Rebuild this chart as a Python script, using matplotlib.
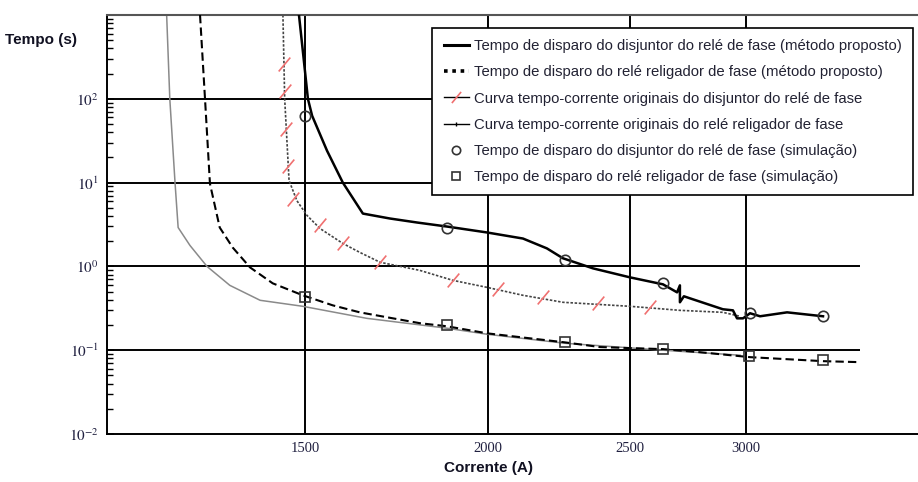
import matplotlib
matplotlib.use('Agg')

import matplotlib.pyplot as plt
from matplotlib.lines import Line2D
from matplotlib.ticker import FixedLocator, NullLocator, LogLocator, NullFormatter

plt.rcParams['font.family'] = ['Liberation Sans', 'DejaVu Sans']
plt.rcParams['mathtext.fontset'] = 'stix'

# Tempo de disparo do disjuntor (método proposto)
disj_x = [1486, 1497, 1507, 1517, 1553, 1592, 1643, 1714, 1789, 1875, 1997, 2113, 2194,
          2250, 2359, 2500, 2633, 2692, 2704, 2704, 2721, 2747, 2893, 2939, 2958, 2986,
          3019, 3067, 3200, 3386]
disj_y = [1000, 300, 100, 62.8, 24, 10, 4.27, 3.73, 3.34, 2.99, 2.54, 2.15, 1.64,
          1.25, 0.947, 0.740, 0.611, 0.490, 0.594, 0.373, 0.44, 0.416, 0.308, 0.299,
          0.240, 0.240, 0.276, 0.254, 0.283, 0.254]

# Tempo de disparo do religador (método proposto)
relig_x = [1272, 1282, 1292, 1312, 1339, 1376, 1426, 1495, 1567, 1635, 1797, 1875, 1997,
           2257, 2385, 2500, 2633, 2791, 3019, 3386, 3588]
relig_y = [1000, 100, 9.7, 2.91, 1.68, 0.973, 0.628, 0.452, 0.343, 0.283, 0.210, 0.193,
           0.159, 0.124, 0.109, 0.106, 0.103, 0.0946, 0.0826, 0.0740, 0.0720]

# Curva original do disjuntor
orig_disj_x = [1449, 1453, 1463, 1481, 1505, 1536, 1592, 1635, 1688, 1797, 1893, 1997,
               2113, 2250, 2500, 2704, 2893, 2972]
orig_disj_y = [1000, 100, 10.6, 6.1, 4.05, 2.83, 1.88, 1.47, 1.12, 0.896, 0.681, 0.562,
               0.452, 0.373, 0.334, 0.299, 0.283, 0.254]
slash_x = [1451, 1453, 1456, 1460, 1472, 1536, 1592, 1688, 1893, 2031, 2180, 2377, 2580]
slash_y = [261, 125, 44, 15.9, 6.3, 3.08, 1.88, 1.12, 0.681, 0.532, 0.428, 0.363, 0.325]

# Curva original do religador
orig_relig_x = [1207, 1213, 1223, 1229, 1252, 1286, 1333, 1398, 1495, 1653, 1875, 1997,
                2257, 2633, 2972]
orig_relig_y = [1000, 100, 10, 2.91, 1.78, 1.0, 0.594, 0.394, 0.334, 0.240, 0.183, 0.155,
                0.121, 0.100, 0.0872]

# Simulação
sim_disj_x = [1500, 1875, 2257, 2633, 3019, 3386]
sim_disj_y = [62.8, 2.91, 1.18, 0.628, 0.276, 0.254]
sim_relig_x = [1500, 1875, 2257, 2633, 3013, 3386]
sim_relig_y = [0.428, 0.198, 0.124, 0.103, 0.0849, 0.0760]

x_ticks = [1500, 2000, 2500, 3000]
y_ticks = [0.01, 0.1, 1, 10, 100]
y_labels = ['$10^{-2}$', '$10^{-1}$', '$10^{0}$', '$10^{1}$', '$10^{2}$']

labels = [
    'Tempo de disparo do disjuntor do relé de fase (método proposto)',
    'Tempo de disparo do relé religador de fase (método proposto)',
    'Curva tempo-corrente originais do disjuntor do relé de fase',
    'Curva tempo-corrente originais do relé religador de fase',
    'Tempo de disparo do disjuntor do relé de fase (simulação)',
    'Tempo de disparo do relé religador de fase (simulação)',
]

fig = plt.figure(figsize=(9.18, 4.82), dpi=100)
ax = fig.add_axes([107 / 918, 48 / 482, 811 / 918, 419 / 482])
ax.set_xscale('log')
ax.set_yscale('log')
ax.set_xlim(1099, 3931)
ax.set_ylim(0.01, 1000)

# grid lines (horizontal ones stop before the right edge)
for t in x_ticks:
    ax.axvline(t, color='black', lw=1.4, zorder=1)
for t in y_ticks[1:]:
    ax.hlines(t, 1099, 3588, color='black', lw=1.4, zorder=1)

slash = [(-1, -1.2), (1, 1.2)]

ax.plot(orig_relig_x, orig_relig_y, color='#8a8a8a', lw=1.1, zorder=2)
ax.plot(orig_disj_x, orig_disj_y, color='#444444', lw=1.2, ls=(0, (1.5, 1)), zorder=2)
ax.plot(slash_x, slash_y, ls='none', marker=slash, ms=10, mec='#f07070', mew=1.2, zorder=3)
ax.plot(relig_x, relig_y, color='black', lw=1.5, ls=(0, (4, 2)), zorder=3)
ax.plot(disj_x, disj_y, color='black', lw=1.8, zorder=3)
ax.plot(sim_disj_x, sim_disj_y, ls='none', marker='o', ms=7.5, mfc='none', mec='#333333',
        mew=1.2, zorder=4)
ax.plot(sim_relig_x, sim_relig_y, ls='none', marker='s', ms=6.5, mfc='none', mec='#333333',
        mew=1.2, zorder=4)

# axis ticks
ax.xaxis.set_major_locator(FixedLocator(x_ticks))
ax.xaxis.set_minor_locator(NullLocator())
ax.set_xticklabels([str(t) for t in x_ticks], family='Liberation Serif', fontsize=10.5,
                   color='#202040')
ax.tick_params(axis='x', length=0, pad=6)

ax.yaxis.set_major_locator(FixedLocator(y_ticks))
ax.set_yticklabels(y_labels, fontsize=11, color='#202040')
ax.yaxis.set_minor_locator(LogLocator(base=10, subs=range(2, 10), numticks=20))
ax.yaxis.set_minor_formatter(NullFormatter())
ax.tick_params(axis='y', which='major', direction='in', length=5, width=1.2, pad=6)
ax.tick_params(axis='y', which='minor', direction='in', length=4, width=1.0)

ax.spines['right'].set_visible(False)
ax.spines['top'].set_color('#555555')
ax.spines['top'].set_linewidth(1.5)
ax.spines['left'].set_linewidth(1.4)
ax.spines['bottom'].set_linewidth(1.4)

fig.text(5 / 918, 1 - 40 / 482, 'Tempo (s)', fontsize=11, fontweight='bold',
         ha='left', va='center', color='#111122')
fig.text(488 / 918, 1 - 468 / 482, 'Corrente (A)', fontsize=11, fontweight='bold',
         ha='center', va='center', color='#111122')

# legend proxies
h1 = Line2D([], [], color='black', lw=2.2)
h2 = Line2D([], [], color='black', lw=2.6, ls=(0, (1, 1.3)))
h3a = Line2D([], [], color='black', lw=1.0)
h3b = Line2D([], [], ls='none', marker=slash, ms=8, mec='#f07070', mew=1.2)
h4 = Line2D([], [], color='black', lw=1.0, marker='|', ms=3, markevery=[1])
h5 = Line2D([], [], ls='none', marker='o', ms=6, mfc='none', mec='#333333', mew=1.2)
h6 = Line2D([], [], ls='none', marker='s', ms=6, mfc='none', mec='#333333', mew=1.2)

leg = ax.legend([h1, h2, (h3a, h3b), h4, h5, h6], labels, loc='upper right',
                bbox_to_anchor=((913 - 107) / 811, (434 - 28) / 419), borderaxespad=0,
                fontsize=10.7, handlelength=1.7, handletextpad=0.35, borderpad=0.75,
                labelspacing=0.82, fancybox=False, framealpha=1, edgecolor='black')
leg.get_frame().set_linewidth(1.2)
for txt in leg.get_texts():
    txt.set_color('#222233')

fig.savefig('out.png', dpi=100)
plt.close(fig)
